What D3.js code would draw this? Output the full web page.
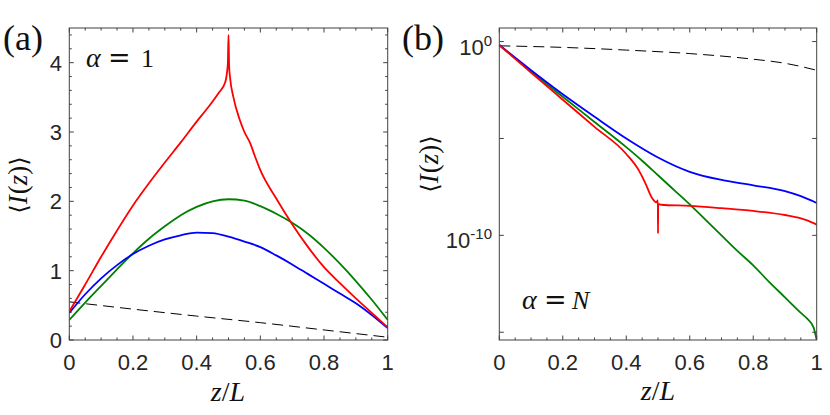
<!DOCTYPE html>
<html>
<head>
<meta charset="utf-8">
<script src="https://cdn.jsdelivr.net/npm/d3@7"></script>
<style>
  body { margin: 0; background: #fff; }
  svg { display: block; }
</style>
</head>
<body>
<svg id="chart" width="830" height="415"></svg>
<script>
// panel (a), alpha = 1, linear axis
const zA = [0, 0.05, 0.1, 0.15, 0.2, 0.25, 0.3, 0.35, 0.4, 0.45, 0.5, 0.55, 0.6, 0.65, 0.7, 0.75, 0.8, 0.85, 0.9, 0.95, 1];
const blueA = [0.39, 0.66, 0.89, 1.08, 1.24, 1.36, 1.45, 1.51, 1.55, 1.54, 1.49, 1.42, 1.34, 1.22, 1.09, 0.95, 0.81, 0.67, 0.53, 0.36, 0.17];
const greenA = [0.29, 0.54, 0.78, 1.02, 1.25, 1.46, 1.64, 1.80, 1.92, 2.00, 2.03, 2.01, 1.93, 1.82, 1.69, 1.53, 1.33, 1.10, 0.85, 0.58, 0.29];
const zRedA = [0, 0.05, 0.1, 0.15, 0.2, 0.25, 0.3, 0.35, 0.4, 0.43, 0.45, 0.47, 0.49, 0.495, 0.498, 0.5, 0.502, 0.505, 0.515, 0.535, 0.55, 0.568, 0.583, 0.6, 0.65, 0.7, 0.75, 0.8, 0.85, 0.9, 0.95, 1];
const redA = [0.41, 0.80, 1.20, 1.58, 1.94, 2.26, 2.56, 2.85, 3.15, 3.32, 3.44, 3.57, 3.72, 3.85, 4.0, 4.40, 3.95, 3.78, 3.51, 3.18, 3.0, 2.84, 2.65, 2.45, 2.04, 1.67, 1.34, 1.05, 0.82, 0.60, 0.39, 0.18];
const zDashA = [0, 0.2, 0.4, 0.6, 0.8, 1];
const dashA = [0.55, 0.445, 0.345, 0.25, 0.145, 0.04];

// panel (b), alpha = N, values as log10 exponents
const zBlueB = [0, 0.1, 0.2, 0.3, 0.4, 0.5, 0.6, 0.7, 0.8, 0.9, 0.95, 1];
const blueB = [-0.18, -1.48, -2.72, -3.88, -5.0, -5.98, -6.72, -7.14, -7.42, -7.72, -7.98, -8.33];
const zGreenB = [0, 0.1, 0.2, 0.3, 0.4, 0.45, 0.5, 0.55, 0.6, 0.65, 0.7, 0.75, 0.8, 0.85, 0.9, 0.95, 0.97, 0.99, 1];
const greenB = [-0.18, -1.55, -2.85, -4.15, -5.45, -6.15, -6.9, -7.65, -8.4, -9.2, -10.0, -10.8, -11.55, -12.4, -13.2, -14.0, -14.3, -14.75, -15.4];
const zRedB = [0, 0.1, 0.2, 0.3, 0.4, 0.44, 0.46, 0.48, 0.495, 0.4995, 0.5, 0.5005, 0.51, 0.6, 0.7, 0.8, 0.9, 0.95, 0.97, 1];
const redB = [-0.18, -1.6, -3.0, -4.4, -5.8, -6.66, -7.3, -8.04, -8.3, -8.2, -9.9, -8.38, -8.42, -8.48, -8.6, -8.74, -8.95, -9.12, -9.23, -9.45];
const zDashB = [0, 0.2, 0.4, 0.6, 0.8, 0.9, 1];
const dashB = [-0.22, -0.3, -0.44, -0.62, -0.91, -1.12, -1.48];

const xTicks = [0, 0.2, 0.4, 0.6, 0.8, 1];
const xTickLabels = ["0", "0.2", "0.4", "0.6", "0.8", "1"];
const yTicksA = [0, 1, 2, 3, 4];
const yTickExpB = [0, -5, -10, -15];
const yLabelExpB = [0, -10];

const COL = { red: "#ff0000", green: "#008000", blue: "#0000ff" };
const AXIS = "#404040";
const TICKFONT = "'Liberation Sans', Arial, Helvetica, sans-serif";
const SERIF = "'Liberation Serif', 'Times New Roman', serif";
const WIDE = "'DejaVu Serif', serif";

const svg = d3.select("#chart");
svg.append("rect").attr("width", 830).attr("height", 415).attr("fill", "#fff");

const yTop = 28, yBot = 340;
const xa = d3.scaleLinear().domain([0, 1]).range([69.3, 387.7]);
const ya = d3.scaleLinear().domain([0, 4.5]).range([yBot, yTop]);
const xb = d3.scaleLinear().domain([0, 1]).range([499.3, 816.7]);
const yb = d3.scaleLog().domain([Math.pow(10, -15.4), Math.pow(10, 0.7)]).range([yBot, yTop]);

const defs = svg.append("defs");
[["clipA", xa], ["clipB", xb]].forEach(([id, x]) => {
  defs.append("clipPath").attr("id", id).append("rect")
    .attr("x", x.range()[0]).attr("y", yTop)
    .attr("width", x.range()[1] - x.range()[0]).attr("height", yBot - yTop);
});

function drawLine(g, zs, vs, x, y, color, dashed) {
  const pts = zs.map((z, i) => [x(z), y(vs[i])]);
  g.append("path")
    .attr("d", d3.line().curve(d3.curveMonotoneX)(pts))
    .attr("fill", "none")
    .attr("stroke", color)
    .attr("stroke-width", dashed ? 1 : 1.8)
    .attr("stroke-dasharray", dashed ? "11,6" : null)
    .attr("stroke-linejoin", "round");
}

// ---- panel (a)
const gA = svg.append("g").attr("clip-path", "url(#clipA)");
drawLine(gA, zDashA, dashA, xa, ya, "#000", true);
drawLine(gA, zA, greenA, xa, ya, COL.green);
drawLine(gA, zA, blueA, xa, ya, COL.blue);
drawLine(gA, zRedA, redA, xa, ya, COL.red);

// ---- panel (b)
const pow = (e) => Math.pow(10, e);
const gB = svg.append("g").attr("clip-path", "url(#clipB)");
drawLine(gB, zDashB, dashB.map(pow), xb, yb, "#000", true);
drawLine(gB, zGreenB, greenB.map(pow), xb, yb, COL.green);
drawLine(gB, zBlueB, blueB.map(pow), xb, yb, COL.blue);
drawLine(gB, zRedB, redB.map(pow), xb, yb, COL.red);

// frame + inward ticks on all four sides
function frame(x, y, yMajor, yMinor) {
  const g = svg.append("g").attr("stroke", AXIS).attr("stroke-width", 1).attr("fill", "none");
  const [x0, x1] = x.range();
  g.append("rect").attr("x", x0).attr("y", yTop).attr("width", x1 - x0).attr("height", yBot - yTop);
  d3.range(0, 1.0001, 0.05).forEach((v) => {
    const major = Math.abs(v * 5 - Math.round(v * 5)) < 1e-6;
    const len = major ? 4.5 : 2.5;
    g.append("line").attr("x1", x(v)).attr("x2", x(v)).attr("y1", yBot).attr("y2", yBot - len);
    g.append("line").attr("x1", x(v)).attr("x2", x(v)).attr("y1", yTop).attr("y2", yTop + len);
  });
  const tickY = (v, len) => {
    g.append("line").attr("x1", x0).attr("x2", x0 + len).attr("y1", y(v)).attr("y2", y(v));
    g.append("line").attr("x1", x1).attr("x2", x1 - len).attr("y1", y(v)).attr("y2", y(v));
  };
  yMajor.forEach((v) => tickY(v, 4.5));
  yMinor.forEach((v) => tickY(v, 2.5));

  const t = svg.append("g").attr("font-family", TICKFONT).attr("font-size", 22).attr("fill", "#262626");
  xTicks.forEach((v, i) => {
    t.append("text").attr("x", x(v)).attr("y", 370).attr("text-anchor", "middle").text(xTickLabels[i]);
  });
}

const minorA = d3.range(0, 4.5001, 0.2).filter((v) => Math.abs(v - Math.round(v)) > 1e-6);
frame(xa, ya, yTicksA, minorA);
frame(xb, yb, yTickExpB.map(pow), []);

// y tick labels
const tA = svg.append("g").attr("font-family", TICKFONT).attr("font-size", 22).attr("fill", "#262626");
yTicksA.forEach((v) => {
  tA.append("text").attr("x", 62).attr("y", ya(v) + 8).attr("text-anchor", "end").text(v);
});
yLabelExpB.forEach((e) => {
  const txt = tA.append("text").attr("x", 492).attr("y", yb(pow(e)) + 13).attr("text-anchor", "end");
  txt.append("tspan").text("10");
  txt.append("tspan").attr("font-size", 15).attr("dy", -9).text(e);
});

// math annotations
const m = svg.append("g").attr("fill", "#111");
m.append("text").attr("x", 3).attr("y", 50).attr("font-family", SERIF).attr("font-size", 36).text("(a)");
m.append("text").attr("x", 402).attr("y", 50).attr("font-family", SERIF).attr("font-size", 36).text("(b)");

// lay out pieces one after another inside a group; returns total width
function mathRow(g, pieces) {
  let x = 0;
  pieces.forEach((p) => {
    const t = g.append("text").attr("x", x + (p.dx || 0)).attr("y", 0)
      .attr("font-family", p.font || SERIF)
      .attr("font-size", p.size)
      .attr("font-style", p.italic ? "italic" : "normal")
      .text(p.s);
    x += t.node().getComputedTextLength() + (p.dx || 0) + (p.after || 0);
  });
  return x;
}

function alphaEq(x0, base, rhs, rhsDx) {
  const g = m.append("g").attr("transform", `translate(${x0},${base})`);
  g.append("text").attr("font-family", SERIF).attr("font-size", 28)
    .attr("font-style", "italic").text("α");
  g.append("text").attr("x", 22).attr("font-family", WIDE).attr("font-size", 27).text("=");
  g.append("text").attr("x", rhsDx).attr("font-family", SERIF).attr("font-size", 26)
    .attr("font-style", rhs === "N" ? "italic" : "normal").text(rhs);
}
alphaEq(86, 67, "1", 55);
alphaEq(522, 309, "N", 50);

function centeredRow(transform, pieces) {
  const g = m.append("g").attr("transform", transform);
  const inner = g.append("g");
  const w = mathRow(inner, pieces);
  inner.attr("transform", `translate(${-w / 2},0)`);
}

const xLabelPieces = [
  { s: "z", size: 28, italic: true },
  { s: "/", size: 28 },
  { s: "L", size: 28, italic: true },
];
centeredRow("translate(228,401)", xLabelPieces);
centeredRow("translate(658,400)", xLabelPieces);

const yLabelPieces = [
  { s: "⟨", size: 24, font: WIDE },
  { s: "I", size: 27, italic: true, after: 1 },
  { s: "(", size: 27 },
  { s: "z", size: 27, italic: true },
  { s: ")", size: 27 },
  { s: "⟩", size: 24, font: WIDE },
];
centeredRow("translate(27,185) rotate(-90)", yLabelPieces);
centeredRow("translate(438,164) rotate(-90)", yLabelPieces);
</script>
</body>
</html>
